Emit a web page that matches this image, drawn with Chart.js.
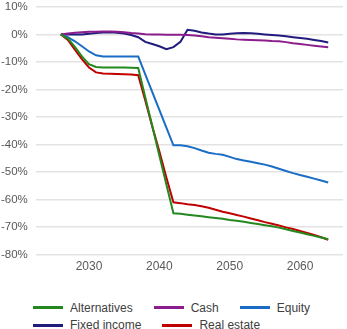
<!DOCTYPE html>
<html>
<head>
<meta charset="utf-8">
<script src="https://cdn.jsdelivr.net/npm/chart.js@4"></script>
<style>
  body { margin: 0; background: #fff; }
  #wrap { position: relative; width: 347px; height: 329px; }
  #box { position: absolute; left: 0; top: 0; width: 347px; height: 279px; }
  #legend { position: absolute; left: 33px; top: 298px; width: 300px; font: 12px 'Liberation Sans', Arial, sans-serif; color: #404040; }
  #legend .item { display: inline-flex; align-items: center; height: 16px; margin-right: 21px; white-space: nowrap; }
  #legend .swatch { display: inline-block; width: 30px; height: 3px; margin-right: 7px; }
</style>
</head>
<body>
<div id="wrap">
  <div id="box"><canvas id="chart"></canvas></div>
  <div id="legend"></div>
</div>
<script>
var years = [];
for (var y = 2026; y <= 2064; y++) years.push(y);

var alternatives = [0, -1.5, -4.5, -8, -10.8, -11.8, -12, -12, -12, -12, -12.1, -12.2,
  -22.8, -33.4, -44, -54.5, -65,
  -65.2, -65.5, -65.8, -66.1, -66.4, -66.7, -67, -67.4, -67.7, -68.1, -68.5, -68.9, -69.3, -69.7, -70.2, -70.8, -71.4, -72, -72.6, -73.2, -73.8, -74.4];
var cash = [0, 0.3, 0.6, 0.8, 1, 1, 1.1, 1.1, 1, 0.8, 0.5, 0.3, 0.1, 0, 0, -0.1, -0.1,
  -0.1, -0.2, -0.4, -0.7, -1, -1.2, -1.4, -1.6, -1.8, -1.9, -2, -2.1, -2.2, -2.4, -2.5, -2.8, -3.2, -3.5, -3.8, -4.1, -4.4, -4.7];
var equity = [0, -1, -2.5, -4.3, -6.2, -7.6, -8, -8, -8, -8, -8, -8,
  -14.5, -21, -27.4, -33.9, -40.3,
  -40.3, -40.6, -41.3, -42.2, -43, -43.4, -43.7, -44.5, -45.3, -45.8, -46.3, -46.8, -47.3, -48, -48.8, -49.6, -50.4, -51.1, -51.7, -52.4, -53.1, -53.8];
var fixedIncome = [0, 0, 0, 0, 0.2, 0.5, 0.7, 0.8, 0.6, 0.3, -0.2, -1, -2.7, -3.5, -4.3, -5.4, -4.6,
  -2.7, 1.7, 1.3, 0.7, 0.3, 0, 0, 0.2, 0.4, 0.5, 0.4, 0.2, 0, -0.2, -0.4, -0.7, -1, -1.3, -1.6, -2, -2.4, -2.9];
var realEstate = [0, -2, -5.5, -9, -12, -13.8, -14.2, -14.3, -14.4, -14.5, -14.6, -14.8,
  -24, -33.5, -42.5, -52, -61,
  -61.3, -61.7, -62, -62.4, -63, -63.7, -64.4, -65, -65.6, -66.2, -66.9, -67.5, -68.2, -68.8, -69.4, -70.1, -70.7, -71.4, -72.1, -72.9, -73.7, -74.6];

var seriesNames = ['Alternatives', 'Cash', 'Equity', 'Fixed income', 'Real estate'];
var seriesData = [alternatives, cash, equity, fixedIncome, realEstate];
var seriesColors = ['#23891f', '#8c1d8c', '#1a6dc6', '#211b7d', '#c00000'];
var xTicks = [2030, 2040, 2050, 2060];
var yTicks = [10, 0, -10, -20, -30, -40, -50, -60, -70, -80];

function toPoints(values) {
    return values.map(function(v, i) { return { x: years[i], y: v }; });
}

var datasets = seriesNames.map(function(name, i) {
    return {
        label: name,
        data: toPoints(seriesData[i]),
        borderColor: seriesColors[i],
        backgroundColor: seriesColors[i],
        borderWidth: 2,
        pointRadius: 0,
        pointHoverRadius: 0,
        tension: 0
    };
});

var family = "'Liberation Sans', Arial, sans-serif";

var chart = new Chart(document.getElementById('chart'), {
    type: 'line',
    data: { datasets: datasets },
    options: {
        responsive: true,
        maintainAspectRatio: false,
        animation: false,
        layout: { autoPadding: false, padding: { top: 0, right: 4, left: 1, bottom: 0 } },
        plugins: {
            legend: { display: false },
            tooltip: { enabled: false }
        },
        scales: {
            x: {
                type: 'linear',
                min: 2022.45,
                max: 2066.1,
                grid: { display: false, drawTicks: false },
                border: { display: false },
                afterBuildTicks: function(axis) {
                    axis.ticks = xTicks.map(function(v) { return { value: v }; });
                },
                ticks: {
                    color: '#595959',
                    font: { family: family, size: 12 },
                    padding: 5,
                    maxRotation: 0,
                    callback: function(v) { return String(v); }
                }
            },
            y: {
                min: -80,
                max: 10,
                grid: { color: '#e3e3e3', lineWidth: 1.5, drawTicks: true, tickLength: 8, tickColor: 'rgba(0,0,0,0)' },
                border: { display: false },
                afterBuildTicks: function(axis) {
                    axis.ticks = yTicks.map(function(v) { return { value: v }; });
                },
                ticks: {
                    color: '#595959',
                    font: { family: family, size: 11.5 },
                    padding: 0,
                    callback: function(v) { return v + '%'; }
                }
            }
        }
    }
});

// legend built from the chart's datasets
var legend = document.getElementById('legend');
chart.data.datasets.forEach(function(ds) {
    var item = document.createElement('span');
    item.className = 'item';
    item.innerHTML = '<span class="swatch" style="background:' + ds.borderColor + '"></span>' + ds.label;
    legend.appendChild(item);
});
</script>
</body>
</html>
